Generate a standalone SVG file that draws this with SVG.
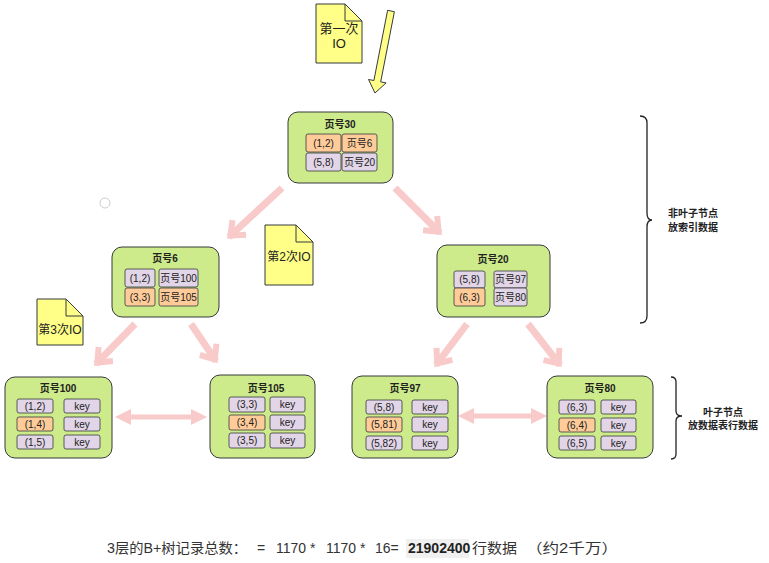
<svg xmlns="http://www.w3.org/2000/svg" width="769" height="563" viewBox="0 0 769 563">
<style>
text{font-family:"Liberation Sans","Noto Sans CJK SC",sans-serif;fill:#222}
.node{fill:#cdeb8b;stroke:#36393d;stroke-width:1}
.o{fill:#ffcc99;stroke:#36393d;stroke-width:.8}
.p{fill:#e1d5e7;stroke:#36393d;stroke-width:.8}
.t{font-size:10px;font-weight:bold;text-anchor:middle}
.c{font-size:10px;text-anchor:middle}
.note{fill:#ffff88;stroke:#36393d;stroke-width:1}
.nt{font-size:13px;text-anchor:middle}
.pk{stroke:#f8caca;stroke-width:7;fill:none}
.dbl{fill:#f8caca}
.br{fill:none;stroke:#222;stroke-width:1.3}
.lb{font-size:10px;font-weight:bold;text-anchor:middle}
.bt{font-size:14px;fill:#333}
</style>
<defs>
<marker id="chev" markerUnits="userSpaceOnUse" orient="auto" markerWidth="30" markerHeight="30" refX="2" refY="0" viewBox="-16 -15 20 30">
<path d="M-12,-10 L0,0 L-12,10" fill="none" stroke="#f8caca" stroke-width="6"/>
</marker>
</defs>
<rect width="769" height="563" fill="#fff"/>
<circle cx="105" cy="203" r="5" fill="none" stroke="#cccccc" stroke-width="1"/>

<g id="connectors">
<polygon points="394.4,11.7 380.7,81.9 386.1,82.9 375,93 368.5,79.5 373.9,80.5 387.6,10.3" fill="#ffff88" stroke="#36393d" stroke-width="1"/>
<line class="pk" x1="282" y1="188" x2="229" y2="237" marker-end="url(#chev)"/>
<line class="pk" x1="395" y1="188" x2="440" y2="233" marker-end="url(#chev)"/>
<line class="pk" x1="135" y1="324" x2="96" y2="364" marker-end="url(#chev)"/>
<line class="pk" x1="191" y1="324" x2="216" y2="361" marker-end="url(#chev)"/>
<line class="pk" x1="467" y1="324" x2="436" y2="365" marker-end="url(#chev)"/>
<line class="pk" x1="528" y1="324" x2="560" y2="365" marker-end="url(#chev)"/>
<polygon class="dbl" points="115,417 131,409 131,414.5 191,414.5 191,409 207,417 191,425 191,419.5 131,419.5 131,425"/>
<polygon class="dbl" points="458,416 474,408 474,413.5 531,413.5 531,408 547,416 531,424 531,418.5 474,418.5 474,424"/>
</g>

<g id="note1">
<path class="note" d="M316,4 H345 L362,21 V63 H316 Z"/>
<path d="M345,4 V21 H362" fill="none" stroke="#36393d" stroke-width="1"/>
<text class="nt" x="339" y="33">第一次</text>
<text class="nt" x="339" y="48">IO</text>
</g>
<g id="note2">
<path class="note" d="M265,225 H296 L313,242 V285 H265 Z"/>
<path d="M296,225 V242 H313" fill="none" stroke="#36393d" stroke-width="1"/>
<text class="nt" x="289" y="261" style="font-size:12px">第2次IO</text>
</g>
<g id="note3">
<path class="note" d="M37,299 H66 L83,316 V345 H37 Z"/>
<path d="M66,299 V316 H83" fill="none" stroke="#36393d" stroke-width="1"/>
<text class="nt" x="60" y="334" style="font-size:12px">第3次IO</text>
</g>

<g id="page30">
<rect class="node" x="288" y="112" width="105" height="71" rx="10"/>
<text class="t" x="340" y="128">页号30</text>
<rect class="o" x="306" y="134" width="35" height="18" rx="2"/>
<rect class="o" x="342" y="134" width="35" height="18" rx="2"/>
<rect class="p" x="306" y="153" width="35" height="18" rx="2"/>
<rect class="p" x="342" y="153" width="35" height="18" rx="2"/>
<text class="c" x="323.5" y="147">(1,2)</text>
<text class="c" x="359.5" y="147">页号6</text>
<text class="c" x="323.5" y="166">(5,8)</text>
<text class="c" x="359.5" y="166">页号20</text>
</g>

<g id="page6">
<rect class="node" x="112" y="247" width="107" height="70" rx="10"/>
<text class="t" x="165" y="262">页号6</text>
<rect class="p" x="125" y="269" width="30" height="18" rx="2"/>
<rect class="p" x="159" y="269" width="39" height="18" rx="2"/>
<rect class="o" x="125" y="288" width="30" height="18" rx="2"/>
<rect class="o" x="159" y="288" width="39" height="18" rx="2"/>
<text class="c" x="140" y="282">(1,2)</text>
<text class="c" x="178.5" y="282">页号100</text>
<text class="c" x="140" y="301">(3,3)</text>
<text class="c" x="178.5" y="301">页号105</text>
</g>

<g id="page20">
<rect class="node" x="437" y="245" width="113" height="72" rx="10"/>
<text class="t" x="493" y="263">页号20</text>
<rect class="p" x="454" y="271" width="31" height="17" rx="2"/>
<rect class="p" x="494" y="271" width="33" height="17" rx="2"/>
<rect class="o" x="454" y="288" width="31" height="18" rx="2"/>
<rect class="p" x="494" y="288" width="33" height="18" rx="2"/>
<text class="c" x="469.5" y="283">(5,8)</text>
<text class="c" x="510.5" y="283">页号97</text>
<text class="c" x="469.5" y="301">(6,3)</text>
<text class="c" x="510.5" y="301">页号80</text>
</g>

<g id="page100">
<rect class="node" x="5" y="377" width="107" height="81" rx="10"/>
<text class="t" x="58" y="392">页号100</text>
<rect class="p" x="17" y="399" width="36" height="14" rx="2"/>
<rect class="o" x="17" y="417" width="36" height="14" rx="2"/>
<rect class="p" x="17" y="435" width="36" height="14" rx="2"/>
<rect class="p" x="64" y="399" width="36" height="14" rx="2"/>
<rect class="p" x="64" y="417" width="36" height="14" rx="2"/>
<rect class="p" x="64" y="435" width="36" height="14" rx="2"/>
<text class="c" x="35" y="410">(1,2)</text>
<text class="c" x="35" y="428">(1,4)</text>
<text class="c" x="35" y="446">(1,5)</text>
<text class="c" x="82" y="410">key</text>
<text class="c" x="82" y="428">key</text>
<text class="c" x="82" y="446">key</text>
</g>

<g id="page105">
<rect class="node" x="210" y="375" width="105" height="83" rx="10"/>
<text class="t" x="266" y="392">页号105</text>
<rect class="p" x="229" y="397" width="36" height="15" rx="2"/>
<rect class="o" x="229" y="415" width="36" height="15" rx="2"/>
<rect class="p" x="229" y="433" width="36" height="15" rx="2"/>
<rect class="p" x="270" y="397" width="35" height="15" rx="2"/>
<rect class="p" x="270" y="415" width="35" height="15" rx="2"/>
<rect class="p" x="270" y="433" width="35" height="15" rx="2"/>
<text class="c" x="247" y="408">(3,3)</text>
<text class="c" x="247" y="426">(3,4)</text>
<text class="c" x="247" y="444">(3,5)</text>
<text class="c" x="287.5" y="408">key</text>
<text class="c" x="287.5" y="426">key</text>
<text class="c" x="287.5" y="444">key</text>
</g>

<g id="page97">
<rect class="node" x="352" y="376" width="106" height="82" rx="10"/>
<text class="t" x="405" y="392">页号97</text>
<rect class="p" x="366" y="400" width="36" height="14" rx="2"/>
<rect class="o" x="366" y="417" width="36" height="15" rx="2"/>
<rect class="p" x="366" y="436" width="36" height="14" rx="2"/>
<rect class="p" x="412" y="400" width="36" height="14" rx="2"/>
<rect class="p" x="412" y="417" width="36" height="15" rx="2"/>
<rect class="p" x="412" y="436" width="36" height="14" rx="2"/>
<text class="c" x="384" y="411">(5,8)</text>
<text class="c" x="384" y="428">(5,81)</text>
<text class="c" x="384" y="447">(5,82)</text>
<text class="c" x="430" y="411">key</text>
<text class="c" x="430" y="428">key</text>
<text class="c" x="430" y="447">key</text>
</g>

<g id="page80">
<rect class="node" x="547" y="376" width="106" height="82" rx="10"/>
<text class="t" x="600" y="392">页号80</text>
<rect class="p" x="559" y="400" width="36" height="14" rx="2"/>
<rect class="o" x="559" y="418" width="36" height="14" rx="2"/>
<rect class="p" x="559" y="436" width="36" height="14" rx="2"/>
<rect class="p" x="601" y="400" width="35" height="14" rx="2"/>
<rect class="p" x="601" y="418" width="35" height="14" rx="2"/>
<rect class="p" x="601" y="436" width="35" height="14" rx="2"/>
<text class="c" x="577" y="411">(6,3)</text>
<text class="c" x="577" y="429">(6,4)</text>
<text class="c" x="577" y="447">(6,5)</text>
<text class="c" x="618.5" y="411">key</text>
<text class="c" x="618.5" y="429">key</text>
<text class="c" x="618.5" y="447">key</text>
</g>

<g id="brace-nonleaf">
<path class="br" d="M640,116 Q647,116 647,123 L647,213 Q647,220 652,220 Q647,220 647,227 L647,316 Q647,323 640,323"/>
<text class="lb" x="693" y="217">非叶子节点</text>
<text class="lb" x="693" y="231">放索引数据</text>
</g>
<g id="brace-leaf">
<path class="br" d="M671,377 Q676,377 676,382 L676,411 Q676,416 682,416 Q676,416 676,421 L676,454 Q676,459 671,459"/>
<text class="lb" x="723" y="416">叶子节点</text>
<text class="lb" x="723" y="429">放数据表行数据</text>
</g>

<g id="formula">
<rect x="406" y="539" width="63" height="19" fill="#f0f0f0"/>
<text class="bt" x="107" y="553" textLength="140" lengthAdjust="spacingAndGlyphs">3层的B+树记录总数：</text>
<text class="bt" x="257" y="553">=</text>
<text class="bt" x="276" y="553">1170 *</text>
<text class="bt" x="326" y="553">1170 *</text>
<text class="bt" x="375" y="553">16=</text>
<text class="bt" x="408" y="553" font-weight="bold" style="fill:#222">21902400</text>
<text class="bt" x="472" y="553" textLength="45" lengthAdjust="spacingAndGlyphs">行数据</text>
<text class="bt" x="526" y="553" textLength="92" lengthAdjust="spacingAndGlyphs">（约2千万）</text>
</g>
</svg>
